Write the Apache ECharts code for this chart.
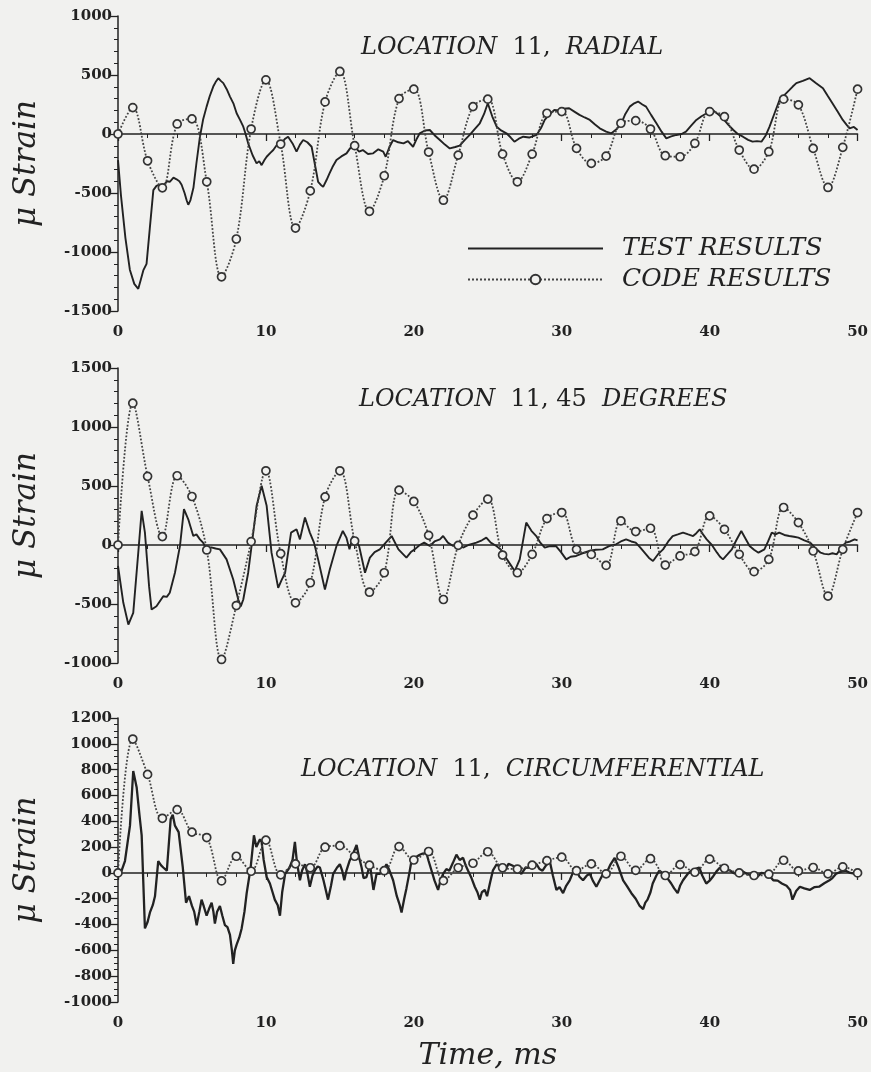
<!DOCTYPE html>
<html>
<head>
<meta charset="utf-8">
<script src="https://cdn.jsdelivr.net/npm/echarts@6/dist/echarts.min.js"></script>
<style>
html,body{margin:0;padding:0;background:#f1f1ef;}
#c{width:871px;height:1072px;}
</style>
</head>
<body>
<div id="c"></div>
<script>
// ---- Data ----
const timeTicks = [0, 10, 20, 30, 40, 50];
const codeTime = [0,1,2,3,4,5,6,7,8,9,10,11,12,13,14,15,16,17,18,19,20,21,22,23,24,25,26,27,28,29,30,31,32,33,34,35,36,37,38,39,40,41,42,43,44,45,46,47,48,49,50];

// Location 11, radial — code results (μ strain)
const codeRadial = [0,224,-227,-456,85,128,-405,-1210,-890,42,459,-85,-797,-482,272,530,-99,-655,-354,300,380,-153,-561,-179,232,295,-170,-405,-170,176,190,-122,-249,-187,91,113,42,-184,-193,-79,190,147,-136,-298,-150,295,247,-122,-453,-113,380];
// Location 11, 45 degrees — code results
const code45 = [0,1202,582,71,587,411,-42,-970,-513,29,629,-73,-490,-320,408,629,34,-400,-235,465,369,82,-462,-3,253,389,-85,-235,-79,224,275,-37,-80,-173,204,114,142,-170,-93,-56,247,133,-79,-226,-122,318,190,-51,-433,-37,275];
// Location 11, circumferential — code results
const codeCirc = [0,1037,763,423,490,316,274,-62,129,13,254,-15,70,40,199,211,129,60,17,204,100,166,-60,40,75,164,40,30,60,95,122,17,70,-7,129,20,110,-20,64,5,107,36,0,-20,-10,98,15,42,-7,47,0];

// Test results: [time ms, μ strain]
const testRadial = [[0,-221],[0.2,-520],[0.5,-880],[0.8,-1150],[1.1,-1270],[1.37,-1312],[1.55,-1230],[1.71,-1156],[1.93,-1100],[2.15,-800],[2.39,-476],[2.6,-440],[2.8,-430],[3.06,-440],[3.3,-400],[3.5,-405],[3.75,-370],[3.96,-384],[4.15,-400],[4.3,-430],[4.5,-500],[4.64,-561],[4.75,-600],[4.9,-560],[5.1,-456],[5.3,-250],[5.54,-23],[5.75,120],[5.99,232],[6.2,320],[6.44,402],[6.6,440],[6.78,473],[6.95,450],[7.12,431],[7.35,380],[7.57,317],[7.8,260],[8.02,176],[8.25,120],[8.47,62],[8.6,10],[8.8,-79],[9.1,-180],[9.37,-249],[9.55,-230],[9.71,-264],[9.9,-220],[10.05,-193],[10.3,-160],[10.5,-136],[10.7,-100],[10.84,-79],[11.1,-70],[11.3,-40],[11.5,-23],[11.8,-80],[12.07,-150],[12.3,-90],[12.52,-51],[12.8,-70],[13.09,-108],[13.3,-250],[13.53,-405],[13.7,-430],[13.87,-448],[14.1,-390],[14.3,-334],[14.5,-280],[14.77,-221],[15.1,-190],[15.45,-164],[15.7,-120],[16.0,-108],[16.3,-150],[16.55,-136],[16.9,-170],[17.25,-164],[17.6,-130],[17.93,-150],[18.1,-193],[18.35,-110],[18.6,-51],[18.95,-70],[19.3,-79],[19.6,-60],[19.95,-108],[20.2,-40],[20.4,6],[20.75,30],[21.08,34],[21.4,-10],[21.76,-51],[22.1,-90],[22.43,-122],[22.8,-110],[23.1,-98],[23.45,-50],[23.78,-8],[24.1,40],[24.46,91],[24.75,170],[25.0,261],[25.3,150],[25.6,62],[25.9,30],[26.26,6],[26.55,-30],[26.8,-65],[27.1,-40],[27.4,-23],[27.8,-30],[28.3,-8],[28.6,50],[28.85,119],[29.2,170],[29.5,204],[29.8,200],[30.1,215],[30.5,218],[30.85,190],[31.2,162],[31.55,140],[31.9,119],[32.25,80],[32.57,48],[33.0,20],[33.36,6],[33.7,40],[34.03,91],[34.3,170],[34.6,232],[34.9,260],[35.16,275],[35.45,250],[35.7,232],[36.05,160],[36.4,91],[36.75,20],[37.07,-37],[37.4,-20],[37.75,-8],[38.1,0],[38.4,20],[38.75,70],[39.1,119],[39.45,150],[39.8,176],[40.2,204],[40.55,170],[40.9,133],[41.25,80],[41.6,34],[41.9,0],[42.25,-23],[42.6,-50],[42.9,-65],[43.2,-60],[43.5,-65],[43.8,-10],[44.05,62],[44.4,180],[44.73,289],[45.05,330],[45.4,374],[45.6,400],[45.86,431],[46.3,450],[46.76,473],[47.2,430],[47.66,388],[48.0,320],[48.3,261],[48.65,190],[49.0,119],[49.25,80],[49.46,48],[49.75,60],[50.0,34]];

const test45 = [[0,-178],[0.36,-490],[0.7,-674],[1.03,-575],[1.37,-65],[1.6,289],[1.82,105],[2.1,-349],[2.27,-547],[2.6,-519],[3.06,-434],[3.3,-440],[3.5,-405],[3.85,-235],[4.19,-8],[4.46,304],[4.75,218],[5.09,76],[5.3,90],[5.54,48],[5.75,20],[5.99,-37],[6.3,-20],[6.6,-30],[6.89,-37],[7.34,-122],[7.79,-292],[8.13,-462],[8.3,-520],[8.47,-462],[8.8,-235],[9.1,60],[9.37,332],[9.71,502],[10.05,332],[10.38,-65],[10.83,-363],[11.05,-300],[11.3,-235],[11.7,105],[12.07,133],[12.3,48],[12.64,233],[12.97,105],[13.25,20],[13.53,-122],[13.99,-377],[14.32,-207],[14.77,-8],[15.2,119],[15.45,60],[15.65,-37],[15.88,76],[16.3,-8],[16.7,-235],[17.03,-107],[17.35,-60],[17.7,-37],[18.1,20],[18.5,76],[18.96,-37],[19.5,-107],[19.8,-60],[20.06,-37],[20.4,0],[20.7,20],[21.08,-8],[21.4,30],[21.76,48],[21.98,76],[22.3,20],[22.66,-8],[23.0,10],[23.33,-22],[23.7,0],[24.23,20],[24.6,40],[24.9,62],[25.2,20],[25.58,-8],[25.9,-40],[26.15,-93],[26.5,-160],[26.82,-221],[27.16,-122],[27.6,190],[27.95,120],[28.28,76],[28.55,20],[28.85,-22],[29.2,-10],[29.6,-8],[29.95,-60],[30.3,-122],[30.6,-100],[30.97,-93],[31.4,-70],[31.87,-51],[32.3,-40],[32.77,-37],[33.2,-10],[33.67,6],[34.0,30],[34.35,48],[34.7,30],[35.0,20],[35.3,-20],[35.6,-65],[35.9,-110],[36.17,-136],[36.5,-80],[36.85,-37],[37.2,30],[37.5,76],[37.85,90],[38.2,105],[38.55,90],[38.88,76],[39.1,100],[39.33,133],[39.55,90],[39.8,48],[40.15,0],[40.5,-65],[40.7,-100],[40.9,-122],[41.2,-80],[41.5,-37],[41.8,40],[42.14,119],[42.4,60],[42.7,-8],[43.0,-40],[43.3,-65],[43.7,-37],[43.95,30],[44.2,105],[44.45,90],[44.7,105],[45.05,85],[45.38,76],[45.7,70],[46.0,62],[46.4,40],[46.8,20],[47.1,-20],[47.5,-65],[47.75,-75],[48.05,-79],[48.3,-70],[48.6,-79],[48.9,-20],[49.2,20],[49.5,30],[49.8,48],[50.0,40]];

const testCirc = [[0,-32],[0.25,20],[0.47,92],[0.81,366],[1.03,789],[1.26,664],[1.45,450],[1.6,291],[1.82,-430],[2.0,-380],[2.16,-306],[2.35,-250],[2.5,-181],[2.72,92],[2.9,60],[3.06,42],[3.3,17],[3.56,415],[3.7,450],[3.85,366],[4.1,316],[4.38,42],[4.6,-231],[4.8,-180],[5.0,-256],[5.15,-300],[5.32,-405],[5.5,-300],[5.65,-207],[5.8,-260],[5.99,-331],[6.15,-280],[6.33,-231],[6.45,-300],[6.55,-393],[6.7,-300],[6.89,-256],[7.05,-330],[7.23,-405],[7.4,-420],[7.57,-480],[7.7,-600],[7.79,-704],[7.9,-600],[8.02,-555],[8.2,-500],[8.36,-430],[8.55,-300],[8.7,-157],[8.97,42],[9.19,291],[9.35,200],[9.48,192],[9.6,260],[9.71,241],[9.85,100],[10.05,-32],[10.27,-82],[10.45,-150],[10.6,-207],[10.8,-250],[10.95,-331],[11.1,-150],[11.3,-7],[11.6,42],[11.8,100],[11.96,241],[12.1,80],[12.3,-57],[12.45,20],[12.64,67],[12.8,0],[12.97,-107],[13.15,-20],[13.3,17],[13.5,50],[13.65,42],[13.9,-60],[14.2,-207],[14.4,-100],[14.55,-7],[14.8,40],[15.0,67],[15.15,20],[15.3,-57],[15.45,20],[15.65,92],[15.9,150],[16.13,216],[16.3,120],[16.47,42],[16.6,-40],[16.8,-32],[17.03,67],[17.27,-132],[17.48,-7],[17.7,-7],[17.93,17],[18.15,67],[18.35,20],[18.6,-57],[18.85,-180],[19.05,-250],[19.17,-306],[19.35,-200],[19.5,-120],[19.7,0],[19.84,92],[20.1,120],[20.4,141],[20.6,150],[20.85,154],[21.0,92],[21.2,17],[21.4,-60],[21.64,-132],[21.8,-60],[21.98,-7],[22.2,30],[22.4,17],[22.65,80],[22.88,141],[23.1,100],[23.33,117],[23.5,60],[23.67,17],[23.9,-40],[24.12,-107],[24.3,-150],[24.46,-207],[24.6,-150],[24.8,-132],[24.95,-180],[25.14,-82],[25.35,20],[25.6,67],[25.85,40],[26.15,17],[26.4,70],[26.7,55],[27.0,20],[27.27,-7],[27.55,40],[27.84,42],[28.05,80],[28.3,67],[28.5,30],[28.7,17],[28.95,60],[29.19,92],[29.4,-20],[29.64,-132],[29.85,-110],[30.09,-157],[30.3,-100],[30.54,-57],[30.75,0],[31.0,17],[31.2,-30],[31.44,-57],[31.7,-20],[31.9,-7],[32.1,-60],[32.34,-107],[32.57,-57],[32.8,-7],[33.1,17],[33.3,67],[33.58,117],[33.85,40],[34.15,-57],[34.4,-100],[34.71,-157],[35.0,-200],[35.27,-256],[35.5,-281],[35.65,-230],[35.8,-207],[36.0,-150],[36.15,-82],[36.4,-20],[36.6,17],[36.8,0],[37.05,-32],[37.2,-50],[37.4,-82],[37.6,-120],[37.84,-157],[38.0,-100],[38.2,-57],[38.5,-10],[38.76,17],[39.0,30],[39.3,42],[39.5,-20],[39.77,-82],[40.0,-60],[40.2,-32],[40.45,10],[40.7,42],[41.0,30],[41.4,17],[41.6,0],[41.8,-7],[42.1,20],[42.5,-7],[42.85,-20],[43.2,-32],[43.5,0],[43.85,-7],[44.1,-30],[44.3,-57],[44.6,-60],[44.88,-82],[45.2,-100],[45.44,-132],[45.6,-207],[45.85,-140],[46.1,-107],[46.4,-120],[46.76,-132],[47.1,-110],[47.4,-107],[47.75,-80],[48.1,-57],[48.3,-40],[48.55,-7],[48.9,10],[49.2,17],[49.5,0],[49.9,-7],[50.0,-20]];

const panelTitles = [
  ['LOCATION', '11,', 'RADIAL'],
  ['LOCATION', '11, 45', 'DEGREES'],
  ['LOCATION', '11,', 'CIRCUMFERENTIAL']
];
const yRanges = [[-1500, 1000, 500], [-1000, 1500, 500], [-1000, 1200, 200]];
const seriesNames = ['TEST RESULTS', 'CODE RESULTS'];
const yName = 'μ Strain';
const xName = 'Time, ms';

// ---- Chart ----
const BG = '#f1f1ef';
const INK = '#222222';
const SERIF = 'DejaVu Serif';
const chart = echarts.init(document.getElementById('c'), null, {renderer: 'canvas'});

const gridTops = [16, 368, 718];
const titlePos = [[356, 31], [354, 383], [296, 753]];
const grids = gridTops.map(t => ({left: 118, width: 740, top: t, height: 295}));

const xAxes = gridTops.map((t, i) => ({
  type: 'value', gridIndex: i, min: 0, max: 50, interval: 10,
  axisLine: {lineStyle: {color: INK, width: 1.5}},
  axisTick: {show: true, length: 7, lineStyle: {color: INK, width: 1.3}},
  minorTick: {show: true, splitNumber: 5, length: 4, lineStyle: {color: INK, width: 1}},
  splitLine: {show: false},
  axisLabel: {color: INK, fontFamily: SERIF, fontWeight: 'bold', fontSize: 15, margin: 14,
    formatter: v => timeTicks.includes(v) ? String(v) : ''},
  name: i === 2 ? xName : '',
  nameLocation: 'middle', nameGap: 39,
  nameTextStyle: {color: INK, fontFamily: SERIF, fontStyle: 'italic', fontSize: 30}
}));

const yAxes = yRanges.map((r, i) => ({
  type: 'value', gridIndex: i, min: r[0], max: r[1], interval: r[2],
  axisLine: {show: true, lineStyle: {color: INK, width: 1.5}},
  axisTick: {show: true, length: 7, lineStyle: {color: INK, width: 1.3}},
  minorTick: {show: true, splitNumber: i === 2 ? 4 : 5, length: 4, lineStyle: {color: INK, width: 1}},
  splitLine: {show: false},
  axisLabel: {color: INK, fontFamily: SERIF, fontWeight: 'bold', fontSize: 15, margin: 6, formatter: v => String(v)},
  name: yName, nameLocation: 'middle', nameGap: 76, nameRotate: 90,
  nameTextStyle: {color: INK, fontFamily: SERIF, fontStyle: 'italic', fontSize: 31}
}));

const titles = panelTitles.map((p, i) => ({
  left: titlePos[i][0], top: titlePos[i][1],
  text: '{i|' + p[0] + '}  {n|' + p[1] + '}  {i|' + p[2] + '}',
  textStyle: {
    fontFamily: SERIF, fontSize: 24, fontWeight: 'normal', color: INK,
    rich: {
      i: {fontFamily: SERIF, fontStyle: 'italic', fontWeight: 'normal', fontSize: 24, color: INK},
      n: {fontFamily: SERIF, fontStyle: 'normal', fontWeight: 'normal', fontSize: 24, color: INK}
    }
  }
}));

const tests = [testRadial, test45, testCirc];
const codes = [codeRadial, code45, codeCirc];
const series = [];
for (let i = 0; i < 3; i++) {
  series.push({
    name: seriesNames[0], type: 'line', xAxisIndex: i, yAxisIndex: i,
    data: tests[i], showSymbol: false, symbol: 'none',
    lineStyle: {color: INK, width: i === 2 ? 2.3 : 1.9},
    itemStyle: {color: INK},
    animation: false, z: 3
  });
  series.push({
    name: seriesNames[1], type: 'line', xAxisIndex: i, yAxisIndex: i,
    data: codeTime.map((t, k) => [t, codes[i][k]]),
    smooth: 0.35,
    symbol: 'circle', symbolSize: 8, showSymbol: true,
    lineStyle: {color: '#444', width: 1.8, type: 'dotted'},
    itemStyle: {color: BG, borderColor: '#333', borderWidth: 1.7},
    animation: false, z: 4
  });
}

chart.setOption({
  backgroundColor: BG,
  animation: false,
  title: titles,
  grid: grids,
  xAxis: xAxes,
  yAxis: yAxes,
  legend: {
    data: [
      {name: seriesNames[0], itemStyle: {opacity: 0}},
      {name: seriesNames[1]}
    ],
    orient: 'vertical', left: 462, top: 231,
    itemWidth: 135, itemHeight: 12, itemGap: 6,
    textStyle: {color: INK, fontFamily: SERIF, fontStyle: 'italic', fontSize: 25, padding: [0, 0, 0, 14]},
    selectedMode: false
  },
  series: series
});
</script>
</body>
</html>
